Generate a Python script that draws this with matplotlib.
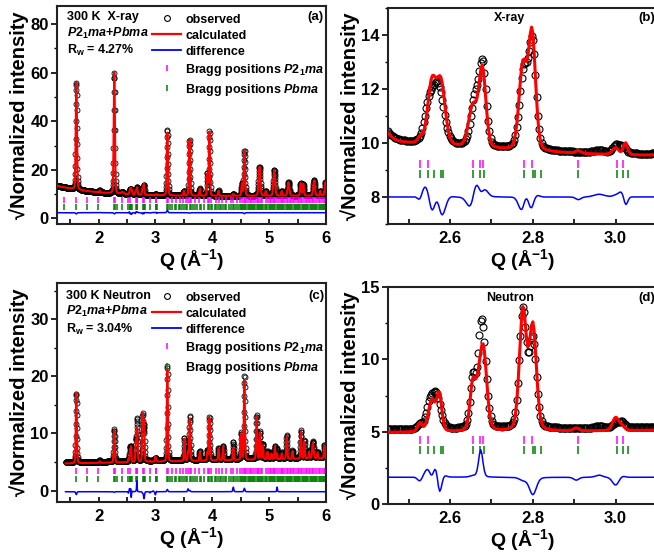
import numpy as np
import matplotlib
matplotlib.use("Agg")
import matplotlib.pyplot as plt
from matplotlib.lines import Line2D
from matplotlib.ticker import MultipleLocator, FormatStrFormatter

plt.rcParams['font.family'] = ['Liberation Sans', 'DejaVu Sans']
plt.rcParams['font.weight'] = 'bold'
plt.rcParams['axes.labelweight'] = 'bold'
plt.rcParams['mathtext.fontset'] = 'custom'
plt.rcParams['mathtext.rm'] = 'Liberation Sans:bold'
plt.rcParams['mathtext.it'] = 'Liberation Sans:italic:bold'
plt.rcParams['mathtext.bf'] = 'Liberation Sans:bold'
plt.rcParams['mathtext.default'] = 'bf'

# ---------------- data ----------------
# sampling of the measured patterns (A^-1)
XR_QMIN, XR_QMAX = 1.27, 6.0
NE_QMIN, NE_QMAX = 1.42, 6.0
Q_STEP = 0.003

# background: level + low-Q excess * exp(-(Q-1.3)/decay) + slope*(Q-3)
XR_BG = (9.0, 4.5, 0.8, 0.12)
NE_BG = (5.05, 0.0, 1.0, 0.2)
XR_BG_OBS_SHIFT = 0.05
NE_BG_OBS_SHIFT = 0.2

# X-ray peaks: position, FWHM, height above background (calculated / observed)
XR_POS = [1.61, 2.02, 2.278, 2.42, 2.527, 2.548, 2.556, 2.571, 2.578, 2.655, 2.66, 2.678, 2.679,
          2.776, 2.778, 2.798, 2.799, 2.91, 2.96, 3.0, 3.017, 3.024, 3.21, 3.50, 3.60, 3.78,
          3.915, 3.95, 4.11, 4.37, 4.52, 4.565, 4.83, 4.94, 5.09, 5.22, 5.34, 5.555, 5.60,
          5.79, 5.90, 5.99]
XR_FWHM = [0.025, 0.015, 0.025, 0.05, 0.012, 0.025, 0.024, 0.032, 0.024, 0.024, 0.024, 0.02, 0.02,
           0.022, 0.024, 0.02, 0.02, 0.015, 0.03, 0.018, 0.02, 0.012, 0.025, 0.02, 0.025, 0.02,
           0.02, 0.022, 0.02, 0.02, 0.02, 0.025, 0.035, 0.02, 0.035, 0.02, 0.035, 0.025, 0.025,
           0.035, 0.02, 0.03]
XR_CALC = [44.5, 0.8, 50.0, 0.8, 0.2, 0.0, 2.25, 0.0, 2.25, 1.5, 0.0, 2.9, 0.0,
           3.1, 0.0, 4.3, 0.0, 0.1, 0.0, 0.25, 0.0, 0.45, 26.0, 2.0, 23.2, 3.0,
           9.0, 26.5, 2.2, 0.8, 5.0, 19.0, 12.0, 2.0, 10.6, 2.0, 5.6, 5.2, 4.9,
           6.3, 2.0, 5.5]
XR_OBS = [44.0, 0.9, 49.5, 0.8, 0.0, 1.2, 0.0, 2.15, 0.0, 0.0, 1.7, 0.0, 2.9,
          0.0, 2.85, 0.0, 3.75, 0.0, 0.1, 0.3, 0.25, 0.0, 27.0, 2.0, 23.0, 3.0,
          9.0, 26.5, 2.2, 0.8, 5.0, 18.6, 12.0, 2.0, 10.6, 2.0, 5.6, 5.2, 4.9,
          6.3, 2.0, 5.5]

# Neutron peaks
NE_POS = [1.61, 2.02, 2.278, 2.527, 2.55, 2.556, 2.567, 2.574, 2.655, 2.668, 2.674,
          2.68, 2.776, 2.80, 2.905, 2.96, 3.0, 3.016, 3.21, 3.51, 3.575, 3.605,
          3.78, 3.915, 3.95, 4.11, 4.19, 4.37, 4.51, 4.565, 4.78, 4.84, 4.89, 4.97, 5.04,
          5.10, 5.14, 5.22, 5.31, 5.41, 5.56, 5.62, 5.70, 5.77, 5.85, 5.97]
NE_FWHM = [0.022, 0.015, 0.022, 0.013, 0.02, 0.02, 0.024, 0.014, 0.016, 0.015, 0.012,
           0.02, 0.02, 0.02, 0.015, 0.02, 0.018, 0.016, 0.022, 0.02, 0.02, 0.022,
           0.02, 0.02, 0.022, 0.02, 0.02, 0.02, 0.02, 0.022, 0.022, 0.02, 0.02, 0.02, 0.02,
           0.02, 0.015, 0.02, 0.022, 0.02, 0.02, 0.02, 0.02, 0.03, 0.02, 0.02]
NE_CALC = [12.5, 0.3, 5.7, 0.6, 0.0, 2.2, 0.0, 2.5, 3.3, 1.5, 0.0,
           5.7, 8.3, 7.2, 0.2, 0.0, 0.9, 0.3, 16.2, 3.9, 1.5, 7.4,
           1.5, 1.5, 7.5, 2.0, 2.4, 2.2, 4.5, 14.0, 7.6, 4.7, 2.5, 1.3, 1.0,
           2.2, 1.0, 1.0, 4.0, 1.3, 4.8, 3.0, 1.2, 2.8, 1.0, 2.2]
NE_OBS = [12.0, 0.3, 5.6, 0.3, 1.5, 0.0, 2.3, 0.0, 3.4, 1.5, 1.9,
          5.7, 8.1, 6.0, 0.0, 0.15, 0.35, 0.4, 16.6, 3.9, 2.0, 7.6,
          1.5, 1.5, 7.5, 2.0, 2.4, 3.0, 4.5, 14.6, 7.6, 4.7, 2.5, 1.3, 1.0,
          2.2, 1.8, 1.0, 4.0, 1.3, 4.8, 3.0, 1.2, 2.8, 1.0, 2.2]

# difference-curve offsets for each panel
DIFF_OFFSET = {"a": 2.3, "b": 7.95, "c": -0.4, "d": 1.65}

# Bragg reflections of the two phases
BRAGG_P21MA = [1.40, 1.61, 1.80, 1.99, 2.27, 2.29, 2.42, 2.527, 2.546, 2.655, 2.673, 2.68,
               2.778, 2.797, 2.909, 3.003, 3.017, 3.21, 3.23, 3.29, 3.36, 3.44, 3.49, 3.53,
               3.57, 3.60, 3.63, 3.70, 3.76, 3.85, 3.93, 3.95, 3.98, 4.07, 4.11, 4.17, 4.24,
               4.33, 4.37, 4.43, 4.48, 4.52, 4.55, 4.57, 4.60, 4.63, 4.66, 4.69, 4.72, 4.75,
               4.78, 4.80, 4.83, 4.85, 4.88, 4.95, 4.98, 5.01, 5.04, 5.06, 5.09, 5.11, 5.14,
               5.17, 5.20, 5.22, 5.25, 5.28, 5.31, 5.33, 5.36, 5.39, 5.42, 5.44, 5.47, 5.50,
               5.53, 5.56, 5.58, 5.61, 5.64, 5.67, 5.70, 5.72, 5.75, 5.78, 5.81, 5.84, 5.87,
               5.90, 5.93, 5.96, 5.99]
BRAGG_PBMA = [1.40, 1.61, 1.80, 1.99, 2.27, 2.29, 2.33, 2.42, 2.527, 2.546, 2.562, 2.578, 2.583,
              2.655, 2.673, 2.683, 2.778, 2.800, 2.806, 2.820, 2.910, 3.003, 3.017, 3.030,
              3.21, 3.23, 3.26, 3.30, 3.34, 3.37, 3.41, 3.44, 3.47, 3.50, 3.53, 3.56, 3.60,
              3.62, 3.66, 3.70, 3.74, 3.78, 3.81, 3.86, 3.93, 3.95, 3.97, 4.00, 4.04, 4.07,
              4.10, 4.13, 4.16, 4.19, 4.22, 4.25, 4.30, 4.33, 4.36, 4.39, 4.42, 4.45, 4.48,
              4.50, 4.52, 4.54, 4.56, 4.58, 4.60, 4.62, 4.64, 4.66, 4.68, 4.70, 4.72, 4.74,
              4.76, 4.78, 4.80, 4.82, 4.84, 4.86, 4.88, 4.90, 4.93, 4.95, 4.97, 4.99, 5.01,
              5.03, 5.05, 5.07, 5.09, 5.11, 5.13, 5.15, 5.17, 5.19, 5.21, 5.23, 5.25, 5.27,
              5.29, 5.31, 5.33, 5.35, 5.37, 5.39, 5.41, 5.43, 5.45, 5.47, 5.49, 5.51, 5.53,
              5.55, 5.57, 5.59, 5.61, 5.63, 5.65, 5.67, 5.69, 5.71, 5.73, 5.75, 5.77, 5.79,
              5.81, 5.83, 5.85, 5.87, 5.89, 5.91, 5.93, 5.95, 5.97, 5.99]
# tick-row heights (y units) in each panel: (P2_1ma, Pbma)
BRAGG_Y = {"a": (7.5, 4.5), "b": (9.24, 8.87), "c": (3.5, 2.0), "d": (4.45, 3.75)}

MAGENTA, GREEN, RED, BLUE = "#ff00ff", "#008000", "#ff0000", "#0000ff"
PH1 = r"$\mathit{P2_1ma}$"
PH2 = r"$\mathit{Pbma}$"


def background(q, bg):
    lev, exc, dec, slope = bg
    return lev + exc * np.exp(-(q - 1.3) / dec) + slope * (q - 3.0)


def peaks(q, pos, fwhm, amp, eta=0.2):
    y = np.zeros_like(q)
    for p, w, a in zip(pos, fwhm, amp):
        if a == 0:
            continue
        u = (q - p) / w
        y += a * ((1 - eta) * np.exp(-4 * np.log(2) * u ** 2) + eta / (1 + 4 * u ** 2))
    return y


def patterns(qmin, qmax, bg, shift, pos, fwhm, calc, obs):
    q = np.arange(qmin, qmax, Q_STEP)
    b = background(q, bg)
    yc = b + peaks(q, pos, fwhm, calc)
    yo = b + shift + peaks(q, pos, fwhm, obs)
    return q, yo, yc


def draw(ax, q, yo, yc, key, big):
    ms, lw, tick_ms = (5.0, 2.2, 5.2) if big else (3.6, 1.5, 4.3)
    ax.plot(q, yo, ls="none", marker="o", ms=ms, mfc="none", mec="black",
            mew=0.8 if big else 0.6, zorder=2)
    ax.plot(q, yc, color=RED, lw=lw, zorder=3)
    ax.plot(q, yo - yc + DIFF_OFFSET[key], color=BLUE, lw=1.1, zorder=3)
    y1, y2 = BRAGG_Y[key]
    b1 = [b for b in BRAGG_P21MA if q[0] <= b <= q[-1]]
    b2 = [b for b in BRAGG_PBMA if q[0] <= b <= q[-1]]
    ax.plot(b1, [y1] * len(b1), ls="none", marker="|", ms=tick_ms, mew=1.1, color=MAGENTA)
    ax.plot(b2, [y2] * len(b2), ls="none", marker="|", ms=tick_ms, mew=1.1, color=GREEN)


def style(ax, xmaj, xmin, ymaj, ymin, fmt):
    for s in ax.spines.values():
        s.set_linewidth(1.5)
        s.set_color("#222222")
    ax.xaxis.set_major_locator(MultipleLocator(xmaj))
    ax.xaxis.set_minor_locator(MultipleLocator(xmin))
    ax.yaxis.set_major_locator(MultipleLocator(ymaj))
    ax.yaxis.set_minor_locator(MultipleLocator(ymin))
    ax.xaxis.set_major_formatter(FormatStrFormatter(fmt))
    ax.tick_params(axis="x", which="both", direction="in", length=3.5, width=1.2, labelsize=12, pad=5)
    ax.tick_params(axis="y", which="major", direction="out", length=4, width=1.2, labelsize=12, pad=2)
    ax.tick_params(axis="y", which="minor", direction="out", length=2.5, width=1.0)
    ax.set_xlabel("Q (Å$^{-1}$)", fontsize=14, labelpad=1)
    ax.set_ylabel("√Normalized intensity", fontsize=14.5, labelpad=1)


def legend(ax, y_top):
    h = [Line2D([], [], ls="none", marker="o", ms=4.2, mfc="none", mec="black", mew=0.8),
         Line2D([], [], color=RED, lw=1.6),
         Line2D([], [], color=BLUE, lw=1.3),
         Line2D([], [], ls="none", marker="|", ms=4.3, mew=1.1, color=MAGENTA),
         Line2D([], [], ls="none", marker="|", ms=4.3, mew=1.1, color=GREEN)]
    labels = ["observed", "calculated", "difference",
              "Bragg positions " + PH1, "Bragg positions " + PH2]
    ax.legend(h, labels, loc="upper left", bbox_to_anchor=(0.345, y_top), frameon=False,
              prop={"weight": "bold", "size": 9}, handlelength=2.3, handletextpad=0.35,
              labelspacing=0.32, borderpad=0.2, borderaxespad=0)


W, H = 654, 553
fig = plt.figure(figsize=(W / 100, H / 100), dpi=100)


def axes_px(l, r, t, b):
    return fig.add_axes([l / W, 1 - b / H, (r - l) / W, (b - t) / H])


qx, yox, ycx = patterns(XR_QMIN, XR_QMAX, XR_BG, XR_BG_OBS_SHIFT, XR_POS, XR_FWHM, XR_CALC, XR_OBS)
qn, yon, ycn = patterns(NE_QMIN, NE_QMAX, NE_BG, NE_BG_OBS_SHIFT, NE_POS, NE_FWHM, NE_CALC, NE_OBS)

# (a) X-ray, full range
ax = axes_px(57, 326, 6, 224)
draw(ax, qx, yox, ycx, "a", False)
ax.set_xlim(1.27, 6.0)
ax.set_ylim(-2.3, 87.5)
style(ax, 1, 0.5, 20, 10, "%g")
ax.text(0.037, 0.95, "300 K  X-ray", transform=ax.transAxes, fontsize=9, va="center")
ax.text(0.037, 0.876, PH1 + "+" + PH2, transform=ax.transAxes, fontsize=9, va="center")
ax.text(0.037, 0.798, "R$_\\mathbf{w}$ = 4.27%", transform=ax.transAxes, fontsize=9, va="center")
ax.text(0.989, 0.95, "(a)", transform=ax.transAxes, fontsize=9.5, va="center", ha="right")
legend(ax, 0.977)

# (b) X-ray, zoom
ax = axes_px(388, 657, 8, 224)
draw(ax, qx, yox, ycx, "b", True)
ax.set_xlim(2.45, 3.1)
ax.set_ylim(7, 15)
style(ax, 0.2, 0.1, 2, 1, "%.1f")
ax.text(0.4535, 0.954, "X-ray", transform=ax.transAxes, fontsize=9, ha="center", va="center")
ax.text(0.993, 0.954, "(b)", transform=ax.transAxes, fontsize=9.5, ha="right", va="center")

# (c) neutron, full range
ax = axes_px(57, 326, 283, 502)
draw(ax, qn, yon, ycn, "c", False)
ax.set_xlim(1.27, 6.0)
ax.set_ylim(-2.0, 36.35)
style(ax, 1, 0.5, 10, 5, "%g")
ax.text(0.033, 0.94, "300 K Neutron", transform=ax.transAxes, fontsize=9, va="center")
ax.text(0.033, 0.868, PH1 + "+" + PH2, transform=ax.transAxes, fontsize=9, va="center")
ax.text(0.033, 0.79, "R$_\\mathbf{w}$ = 3.04%", transform=ax.transAxes, fontsize=9, va="center")
ax.text(0.996, 0.94, "(c)", transform=ax.transAxes, fontsize=9.5, va="center", ha="right")
legend(ax, 0.972)

# (d) neutron, zoom
ax = axes_px(388, 657, 287, 504)
draw(ax, qn, yon, ycn, "d", True)
ax.set_xlim(2.45, 3.1)
ax.set_ylim(0, 15)
style(ax, 0.2, 0.1, 5, 2.5, "%.1f")
ax.text(0.4535, 0.95, "Neutron", transform=ax.transAxes, fontsize=9, ha="center", va="center")
ax.text(0.993, 0.95, "(d)", transform=ax.transAxes, fontsize=9.5, ha="right", va="center")

fig.savefig("out.png", dpi=100)
